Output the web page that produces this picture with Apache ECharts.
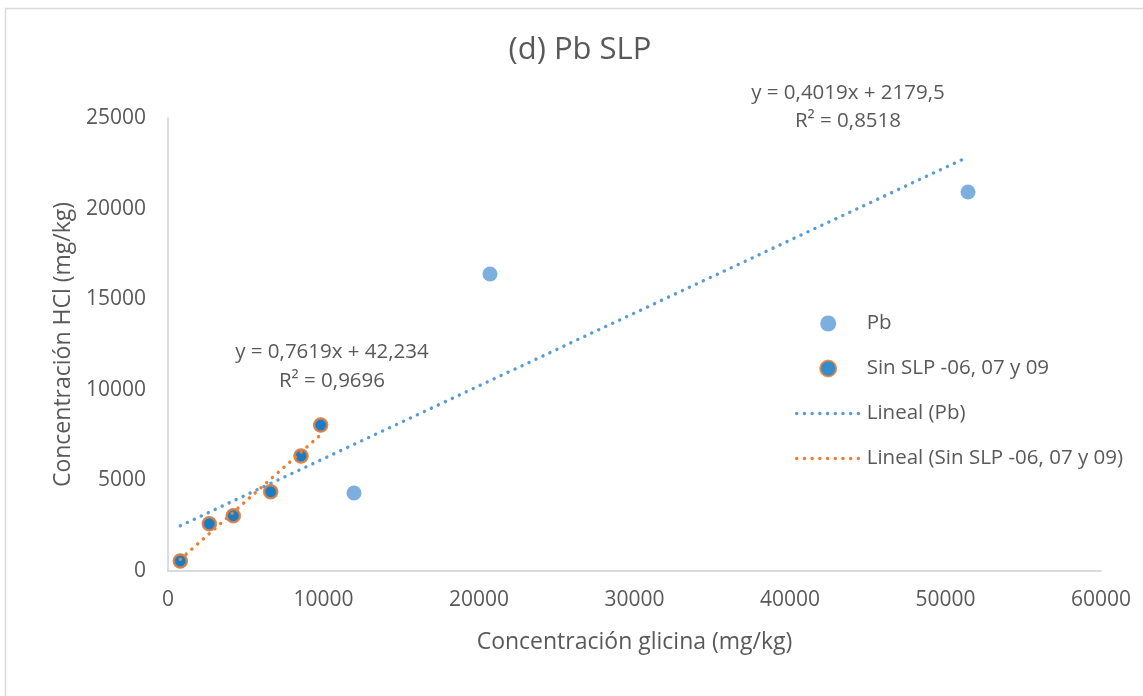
<!DOCTYPE html>
<html>
<head>
<meta charset="utf-8">
<script src="https://cdn.jsdelivr.net/npm/echarts@6/dist/echarts.min.js"></script>
<style>
html,body{margin:0;padding:0;background:#fff;}
#c{width:1143px;height:696px;}
</style>
</head>
<body>
<div id="c"></div>
<script>
// ---- data ----
const pbX = [791, 2656, 4199, 6604, 8553, 9820, 11961, 20707, 51447];
const pbY = [552, 2610, 3052, 4376, 6347, 8057, 4305, 16391, 20916];
const sinX = [791, 2656, 4199, 6604, 8553, 9820];
const sinY = [552, 2610, 3052, 4376, 6347, 8057];
// trendline coefficients as shown on the chart [slope, intercept]
const pbTrend = [0.4019, 2179.5];
const sinTrend = [0.7619, 42.234];
const xTicks = [0, 10000, 20000, 30000, 40000, 50000, 60000];
const yTicks = [0, 5000, 10000, 15000, 20000, 25000];
const seriesNames = ['Pb', 'Sin SLP -06, 07 y 09', 'Lineal (Pb)', 'Lineal (Sin SLP -06, 07 y 09)'];
const pbLabel = ['y = 0,4019x + 2179,5', 'R² = 0,8518'];
const sinLabel = ['y = 0,7619x + 42,234', 'R² = 0,9696'];

function pairs(xs, ys){ return xs.map((x,i)=>[x, ys[i]]); }
function trend(xs, c){
  const lo = Math.min(...xs), hi = Math.max(...xs);
  return [[lo, c[0]*lo + c[1]], [hi, c[0]*hi + c[1]]];
}

const FONT = 'Open Sans';
const TXT = '#595959';
const dotted = {type:[0.1, 7.6], width:3.4, cap:'round'};
const hiddenSym = {color:'rgba(0,0,0,0)', borderWidth:0, opacity:0};

const chart = echarts.init(document.getElementById('c'), null, {renderer:'canvas'});
chart.setOption({
  animation:false,
  backgroundColor:'#fff',
  textStyle:{fontFamily:FONT, color:TXT},
  grid:{left:168, top:118, right:42, bottom:125, containLabel:false},
  xAxis:{
    type:'value', min:xTicks[0], max:xTicks[xTicks.length-1], interval:10000,
    name:'Concentración glicina (mg/kg)', nameLocation:'middle', nameGap:60,
    nameTextStyle:{fontSize:23, color:TXT, fontFamily:FONT},
    axisLine:{show:true, lineStyle:{color:'#D0D0D0', width:1.5}},
    axisTick:{show:false}, splitLine:{show:false},
    axisLabel:{fontSize:21, color:TXT, margin:19, fontFamily:FONT, formatter:v=>String(v)}
  },
  yAxis:{
    type:'value', min:yTicks[0], max:yTicks[yTicks.length-1], interval:5000,
    name:'Concentración HCl (mg/kg)', nameLocation:'middle', nameGap:91, nameRotate:90,
    nameTextStyle:{fontSize:23, color:TXT, fontFamily:FONT},
    axisLine:{show:true, lineStyle:{color:'#D0D0D0', width:1.5}},
    axisTick:{show:false}, splitLine:{show:false},
    axisLabel:{fontSize:21, color:TXT, margin:22, fontFamily:FONT, formatter:v=>String(v)}
  },
  legend:{
    orient:'vertical', left:790, top:308, itemWidth:63, itemHeight:16, itemGap:24,
    textStyle:{fontSize:20.5, color:TXT, fontFamily:FONT, padding:[0,0,0,2]},
    data:[
      {name:seriesNames[0]},
      {name:seriesNames[1]},
      {name:seriesNames[2], itemStyle:hiddenSym, lineStyle:Object.assign({color:'#5B9BD5'}, dotted)},
      {name:seriesNames[3], itemStyle:hiddenSym, lineStyle:Object.assign({color:'#ED7D31'}, dotted)}
    ]
  },
  graphic:[
    {type:'rect', silent:true, z:-10, shape:{x:5.5, y:8.5, width:1200, height:800},
     style:{fill:'none', stroke:'#D9D9D9', lineWidth:1.5}},
    {type:'text', style:{text:'(d) Pb SLP', x:580, y:50, align:'center', verticalAlign:'middle',
      font:'31px "Open Sans"', fill:TXT}},
    {type:'text', style:{text:pbLabel.join('\n'), x:848, y:107, align:'center', verticalAlign:'middle',
      font:'20.5px "Open Sans"', fill:TXT, lineHeight:28}},
    {type:'text', style:{text:sinLabel.join('\n'), x:332, y:367, align:'center', verticalAlign:'middle',
      font:'20.5px "Open Sans"', fill:TXT, lineHeight:29}}
  ],
  series:[
    {name:seriesNames[0], type:'scatter', data:pairs(pbX,pbY), symbol:'circle', symbolSize:15,
     itemStyle:{color:'#5B9BD5'}},
    {name:seriesNames[1], type:'scatter', data:pairs(sinX,sinY), symbol:'circle', symbolSize:13,
     itemStyle:{color:'#0070C0', borderColor:'#ED7D31', borderWidth:2.5}},
    {name:seriesNames[2], type:'line', data:trend(pbX,pbTrend), symbol:'none', showSymbol:false,
     lineStyle:Object.assign({color:'#5B9BD5'}, dotted), itemStyle:{color:'#5B9BD5'}},
    {name:seriesNames[3], type:'line', data:trend(sinX,sinTrend), symbol:'none', showSymbol:false,
     lineStyle:Object.assign({color:'#ED7D31'}, dotted), itemStyle:{color:'#ED7D31'}}
  ]
});
</script>
</body>
</html>
